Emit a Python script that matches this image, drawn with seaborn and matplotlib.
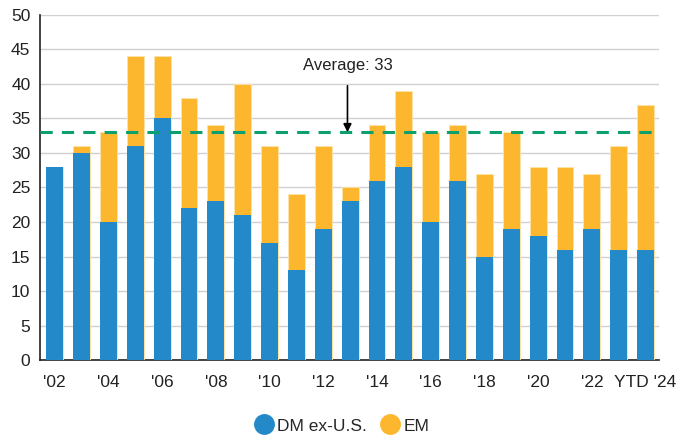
import matplotlib
matplotlib.use("Agg")
import matplotlib.pyplot as plt
from matplotlib.lines import Line2D
import seaborn as sns
import pandas as pd

years = ["'02", "'03", "'04", "'05", "'06", "'07", "'08", "'09", "'10", "'11", "'12",
         "'13", "'14", "'15", "'16", "'17", "'18", "'19", "'20", "'21", "'22", "'23", "YTD '24"]
dm_ex_us = [28, 30, 20, 31, 35, 22, 23, 21, 17, 13, 19, 23, 26, 28, 20, 26, 15, 19, 18, 16, 19, 16, 16]
em = [0, 1, 13, 13, 9, 16, 11, 19, 14, 11, 12, 2, 8, 11, 13, 8, 12, 14, 10, 12, 8, 15, 21]
average = 33

BLUE = "#2389C9"
ORANGE = "#FDB72F"
GREEN = "#0E9F6E"

df = pd.DataFrame({"year": years, "dm": dm_ex_us, "em": em})
df["total"] = df["dm"] + df["em"]

sns.set_theme(style="white")
plt.rcParams["font.family"] = ["Liberation Sans", "DejaVu Sans"]

fig = plt.figure(figsize=(6.93, 4.37), dpi=100)
ax = fig.add_axes([0.058, 0.176, 0.893, 0.790])

# Stacked bars: full height in EM colour, DM ex-U.S. drawn over the lower part
sns.barplot(data=df, x="year", y="total", color=ORANGE, width=0.63, saturation=1,
            edgecolor="#FFE3A8", linewidth=0.6, ax=ax, zorder=3)
sns.barplot(data=df, x="year", y="dm", color=BLUE, width=0.63, saturation=1,
            linewidth=0, ax=ax, zorder=4)

ax.axhline(average, color=GREEN, linestyle=(0, (4, 3)), linewidth=2.2, zorder=5)
ax.annotate(f"Average: {average}", xy=(10.9, average), xytext=(10.9, 42.7),
            ha="center", va="center", fontsize=12, color="#222222",
            arrowprops=dict(arrowstyle="-|>", color="black", lw=1.2,
                            shrinkA=7, shrinkB=0, mutation_scale=12),
            zorder=6)

ax.set_ylim(0, 50)
ax.set_xlim(-0.54, 22.5)
ax.set_yticks(range(0, 51, 5))
ax.set_xticks(range(len(years)))
ax.set_xticklabels([y if i % 2 == 0 else "" for i, y in enumerate(years)])
ax.tick_params(axis="both", length=0, labelsize=12.5, colors="#222222")
ax.tick_params(axis="x", pad=11)
ax.tick_params(axis="y", pad=7)
ax.set_xlabel("")
ax.set_ylabel("")
ax.grid(axis="y", color="#D0D0D0", linewidth=1, zorder=0)
ax.set_axisbelow(True)
for side in ["top", "right"]:
    ax.spines[side].set_visible(False)
for side in ["left", "bottom"]:
    ax.spines[side].set_color("#222222")
    ax.spines[side].set_linewidth(1.2)

handles = [Line2D([], [], marker="o", linestyle="", markersize=14, color=BLUE),
           Line2D([], [], marker="o", linestyle="", markersize=14, color=ORANGE)]
fig.legend(handles, ["DM ex-U.S.", "EM"], loc="center", bbox_to_anchor=(342 / 693, 1 - 426 / 437),
           ncol=2, frameon=False, fontsize=12.5, handlelength=1.0, handletextpad=0.25,
           columnspacing=0.87, borderpad=0)

fig.savefig("out.png", dpi=100)
